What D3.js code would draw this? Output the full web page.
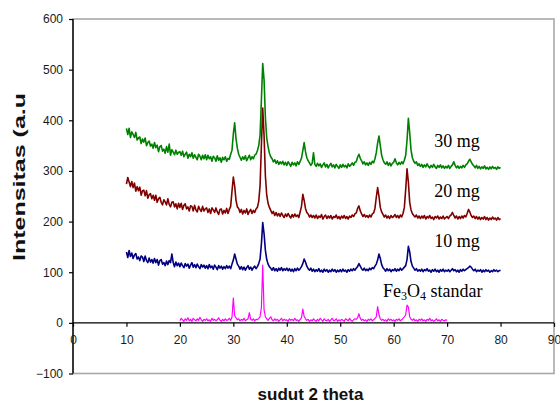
<!DOCTYPE html>
<html><head><meta charset="utf-8">
<script src="https://cdn.jsdelivr.net/npm/d3@7/dist/d3.min.js"></script>
<style>html,body{margin:0;padding:0;background:#fff;}svg{display:block;}</style>
</head><body>
<svg id="chart" width="560" height="405"></svg>
<script>
// ---- data (2-theta sampled every 0.25 degree) ----
const sampleStart = 10;      // 10 mg, 20 mg, 30 mg patterns: 10..80
const standardStart = 20;    // Fe3O4 standard: 20..70
const step = 0.25;

const intensity30mg = [
384,372,384,366,377,372,366,376,361,365,367,354,363,357,365,350,356,359,349,353,
345,356,346,351,338,348,350,339,343,335,348,337,353,331,342,337,332,341,333,337,
338,331,339,328,333,337,325,333,328,336,325,332,327,322,333,329,322,331,324,332,
322,331,324,328,319,329,326,319,330,321,326,317,327,322,328,319,325,323,333,341,
373,395,364,345,333,327,321,328,323,330,320,326,331,322,328,324,331,333,340,350,
370,440,512,480,405,365,348,335,328,324,318,322,315,320,313,318,314,319,312,317,
311,318,314,309,317,312,316,310,318,313,319,325,340,356,338,326,320,316,311,315,
336,313,309,315,310,314,307,312,316,308,313,306,311,315,308,312,306,313,309,305,
312,307,313,308,311,306,314,309,312,316,311,317,318,327,333,325,320,314,318,312,
316,311,317,313,319,316,324,336,355,369,350,331,322,316,313,318,311,316,310,315,
317,324,316,312,317,313,318,314,321,331,360,404,375,341,326,319,315,318,311,314,
309,313,307,312,308,314,309,306,311,307,313,308,305,311,307,312,306,310,305,309,
306,311,305,309,312,318,311,306,310,305,309,306,311,307,312,314,319,323,318,313,
310,306,311,305,309,304,308,305,310,304,307,303,308,304,309,305,307,303,308,305,
307];

const intensity20mg = [
274,287,278,269,279,267,276,260,269,261,268,252,261,262,251,261,246,253,255,245,
252,242,252,238,245,248,238,233,243,239,233,245,234,229,238,239,229,235,225,236,
228,236,224,232,235,225,229,221,231,230,221,232,223,219,230,224,220,230,221,225,
227,218,225,216,227,223,218,227,219,214,224,225,215,222,217,226,216,224,230,260,
288,270,242,229,226,218,224,215,222,217,225,214,220,224,216,222,218,225,228,240,
270,350,424,370,290,252,236,228,222,216,220,212,218,211,216,210,217,212,208,215,
210,216,211,207,214,209,215,210,213,208,219,230,254,242,226,218,215,209,213,208,
212,207,213,206,211,208,214,205,210,213,206,211,207,212,205,210,208,213,206,210,
205,211,207,212,206,210,205,211,208,213,210,215,217,226,231,221,215,210,214,209,
212,208,213,209,215,217,226,248,267,250,228,219,214,209,213,207,211,206,212,208,
210,214,208,212,207,213,209,216,228,263,304,278,238,223,216,212,209,213,207,211,
206,211,207,212,205,210,207,212,206,209,204,210,207,211,205,209,206,211,205,208,
210,206,211,213,218,212,207,211,205,210,206,211,207,212,209,216,224,219,212,208,
211,206,210,205,209,204,208,205,210,204,208,203,207,204,209,205,207,203,208,204,
206];

const intensity10mg = [
140,129,143,131,138,127,134,137,126,130,123,132,130,121,132,123,119,128,120,125,
118,127,119,125,114,123,125,116,119,113,122,115,123,119,136,119,111,120,113,118,
111,118,113,109,117,112,116,108,114,119,110,115,109,116,111,107,115,110,114,108,
113,107,115,109,112,106,114,110,105,113,108,112,106,111,107,113,108,112,107,116,
124,136,126,116,112,106,111,105,110,104,109,113,106,110,104,109,112,107,111,117,
126,155,198,176,143,125,116,111,108,104,109,103,107,102,108,104,109,103,107,104,
108,103,107,102,106,101,107,103,108,104,107,111,117,126,120,112,107,104,108,102,
106,101,105,102,107,101,104,100,106,102,105,100,104,101,106,102,105,100,104,101,
105,101,106,102,104,100,105,102,106,103,107,104,108,111,117,112,107,104,108,103,
106,103,108,105,109,107,112,116,124,136,127,115,109,106,102,107,103,106,101,105,
103,107,102,106,103,108,104,107,110,113,125,151,140,121,112,108,104,107,102,105,
102,106,101,105,103,107,102,104,100,105,102,106,101,104,100,105,102,106,101,104,
102,105,101,104,107,103,105,101,104,100,105,102,106,103,105,107,109,112,110,106,
103,106,101,104,102,105,100,104,101,105,102,104,100,103,101,105,102,104,101,103,
104];

const intensityStandard = [
4,9,6,3,8,5,10,4,7,3,9,6,4,8,5,11,6,3,7,5,
8,4,6,3,9,5,7,4,6,10,5,3,7,4,8,5,6,9,5,11,
49,14,10,6,8,4,7,5,9,4,6,8,20,7,5,8,4,7,6,9,
12,30,114,25,12,8,5,9,12,6,4,8,5,7,3,6,9,4,7,5,
6,3,8,5,7,4,9,5,6,3,7,10,27,13,8,5,7,3,6,4,
8,5,3,7,4,9,6,3,8,5,4,7,3,6,9,4,5,8,3,6,
4,7,5,3,8,6,4,9,5,3,6,8,7,10,18,9,5,7,4,6,
3,7,5,8,4,6,9,12,32,16,8,5,7,4,6,3,8,5,7,4,
6,3,7,5,8,4,6,9,12,16,35,31,12,7,5,8,4,6,3,7,
5,8,4,6,3,7,5,9,4,6,3,5,8,4,6,3,7,5,4,6,
5];

const xTicks = [0,10,20,30,40,50,60,70,80,90];
const yTicks = [-100,0,100,200,300,400,500,600];
const seriesLabels = ["30 mg","20 mg","10 mg"];
const standardLabel = {main:"Fe", sub1:"3", mid:"O", sub2:"4", tail:" standar"};
const xTitle = "sudut 2 theta";
const yTitle = "Intensitas (a.u";

// ---- chart ----
const svg = d3.select("#chart");
const mLeft = 73, mRight = 554, mTop = 19, mBottom = 373.5;
const x = d3.scaleLinear().domain([0,90]).range([mLeft,mRight]);
const y = d3.scaleLinear().domain([-100,600]).range([mBottom,mTop]);

// plot frame (grey)
svg.append("rect")
  .attr("x", x(0)).attr("y", y(600))
  .attr("width", x(90)-x(0)).attr("height", y(-100)-y(600))
  .attr("fill","none").attr("stroke","#a8a8a8").attr("stroke-width",1.6);

const series = [
  {values:intensity30mg, start:sampleStart, color:"#008000", w:1.6},
  {values:intensity20mg, start:sampleStart, color:"#800000", w:1.6},
  {values:intensity10mg, start:sampleStart, color:"#000080", w:1.6},
  {values:intensityStandard, start:standardStart, color:"#ff00ff", w:1.2}
];
series.forEach(s => {
  const line = d3.line().x((d,i)=>x(s.start + i*step)).y(d=>y(d));
  svg.append("path").datum(s.values)
    .attr("d", line).attr("fill","none")
    .attr("stroke", s.color).attr("stroke-width",s.w)
    .attr("stroke-linejoin","round");
});

// y axis
const ya = svg.append("g").attr("transform",`translate(${x(0)},0)`)
  .call(d3.axisLeft(y).tickValues(yTicks).tickSize(4).tickSizeOuter(0).tickPadding(6));
// x axis at y=0
const xa = svg.append("g").attr("transform",`translate(0,${y(0)})`)
  .call(d3.axisBottom(x).tickValues(xTicks).tickSize(4).tickSizeOuter(0).tickPadding(9));
[ya,xa].forEach(g=>{
  g.select(".domain").attr("stroke","#000").attr("stroke-width",1.4);
  g.selectAll(".tick line").attr("stroke","#000").attr("stroke-width",1.2);
  g.selectAll(".tick text").attr("fill","#1a1a1a")
    .style("font-family","'Liberation Sans',Arial,sans-serif").style("font-size","12px");
});
ya.select(".domain").attr("d",`M0,${y(-100)}V${y(600)}`);
xa.select(".domain").attr("d",`M${x(0)},0H${x(90)}`);

// axis titles
svg.append("text").attr("x",(x(0)+x(90))/2 - 3).attr("y",400)
  .attr("text-anchor","middle")
  .style("font-family","'Liberation Sans',Arial,sans-serif")
  .style("font-weight","bold").style("font-size","17px").attr("fill","#111")
  .text(xTitle);
svg.append("text").attr("transform",`translate(25,177) rotate(-90)`)
  .attr("text-anchor","middle")
  .attr("textLength",168).attr("lengthAdjust","spacingAndGlyphs")
  .style("font-family","'Liberation Sans',Arial,sans-serif")
  .style("font-weight","bold").style("font-size","16px").attr("fill","#111")
  .text(yTitle);

// series labels
const labelY = [347, 248, 149];
seriesLabels.forEach((t,i)=>{
  svg.append("text").attr("x",x(67.6)).attr("y",y(labelY[i]))
    .style("font-family","'Liberation Serif','Times New Roman',serif")
    .style("font-size","18px").attr("fill","#000").text(t);
});
const st = svg.append("text").attr("x",x(58.0)).attr("y",y(51))
  .style("font-family","'Liberation Serif','Times New Roman',serif")
  .style("font-size","18px").attr("fill","#000");
st.append("tspan").text(standardLabel.main);
st.append("tspan").attr("dy",3).style("font-size","12px").text(standardLabel.sub1);
st.append("tspan").attr("dy",-3).text(standardLabel.mid);
st.append("tspan").attr("dy",3).style("font-size","12px").text(standardLabel.sub2);
st.append("tspan").attr("dy",-3).text(standardLabel.tail);
</script>
</body></html>
